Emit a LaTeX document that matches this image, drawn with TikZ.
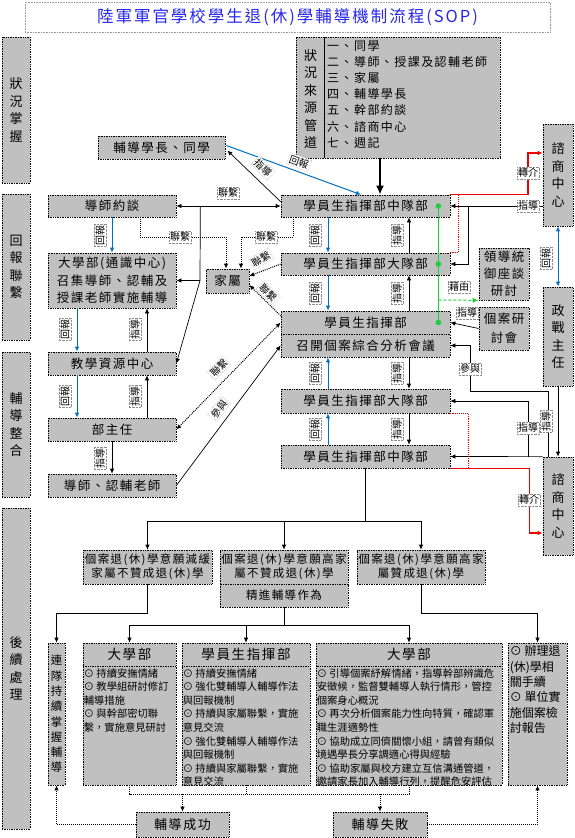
\documentclass[tikz,border=0pt]{standalone}
\usepackage{fontspec}
\setmainfont{Noto Sans CJK TC}
\newfontfamily\cjk[LetterSpace=12]{Noto Sans CJK TC}
\usetikzlibrary{arrows.meta,calc}
\definecolor{boxgray}{RGB}{192,192,192}
\definecolor{lblue}{RGB}{0,112,192}
\definecolor{tblue}{RGB}{40,40,235}
\definecolor{lgreen}{RGB}{30,205,60}
\definecolor{lred}{RGB}{235,0,0}
\newcommand\myfs[2]{\fontsize{#1}{#2}\selectfont}
\begin{document}
\begin{tikzpicture}[x=1pt,y=-1pt,
  wh/.style 2 args={minimum width=#1pt,minimum height=#2pt},
  gbox/.style={draw=black,densely dotted,line width=0.7pt,fill=boxgray,inner sep=0pt,align=center,font={\cjk\myfs{12.5}{17.5}}},
  vbox/.style={gbox,font={\myfs{13}{17.5}}},
  lbl/.style={fill=white,draw=black!45,densely dotted,line width=0.4pt,inner sep=1.3pt,font={\myfs{10}{11}}},
  vlbl/.style={lbl,rotate=90},
  tip/.tip={Latex[length=5pt,width=4.5pt]},
  arr/.style={-tip,line width=0.7pt},
  barr/.style={-tip,line width=1pt,draw=lblue},
  rarr/.style={-tip,line width=1.1pt,draw=lred},
  dline/.style={densely dotted,line width=1pt},
  darr/.style={dline,-tip},
  body/.style={anchor=north west,align=left,inner sep=0pt,font={\myfs{10.3}{13.6}}}]
\useasboundingbox (0,0) rectangle (575,838);
\fill[white] (0,0) rectangle (575,838);

% title
\node[draw=black!40,densely dotted,line width=0.6pt,wh={525}{30},inner sep=0pt,text=tblue,font={\cjk\myfs{16.5}{18}}] (title) at (287.5,17) {陸軍軍官學校學生退(休)學輔導機制流程(SOP)};

% category boxes
\node[vbox,wh={28}{146}] (L1) at (16,110) {狀\\況\\掌\\握};
\node[vbox,wh={28}{146}] (L2) at (16,267) {回\\報\\聯\\繫};
\node[vbox,wh={28}{145}] (L3) at (16,424.5) {輔\\導\\整\\合};
\node[vbox,wh={28}{321}] (L4) at (16,668.5) {後\\續\\處\\理};

% source box
\node[gbox,wh={204}{121}] (src) at (398,97.5) {};
\draw[line width=0.8pt] ($(src.north west)+(29,0)$) -- ($(src.south west)+(29,0)$);
\node[align=center,inner sep=0pt,font={\myfs{13}{17.5}}] (srclbl) at (310.5,99) {狀\\況\\來\\源\\管\\道};
\node[anchor=north west,align=left,inner sep=0pt,font={\cjk\myfs{12}{16.2}}] (srclist) at (327,40) {一、同學\\二、導師、授課及認輔老師\\三、家屬\\四、輔導學長\\五、幹部約談\\六、諮商中心\\七、週記};

% main boxes
\node[gbox,wh={127}{23}] (A) at (161.5,147.5) {輔導學長、同學};
\node[gbox,wh={169}{22}] (B) at (365.5,206) {學員生指揮部中隊部};
\node[gbox,wh={128}{22}] (C) at (112,206) {導師約談};
\node[gbox,wh={128}{55}] (D) at (112,280.5) {大學部(通識中心)\\召集導師、認輔及\\授課老師實施輔導};
\node[gbox,wh={43}{24}] (E) at (227.5,281) {家屬};
\node[gbox,wh={169}{22}] (F) at (365.5,264) {學員生指揮部大隊部};
\node[gbox,wh={169}{23}] (G) at (365.5,322.5) {學員生指揮部};
\node[gbox,wh={169}{23}] (G2) at (365.5,345.5) {召開個案綜合分析會議};
\node[gbox,wh={50}{52},font={\cjk\myfs{12.5}{17}}] (H) at (504,274) {領導統\\御座談\\研討};
\node[gbox,wh={50}{43},font={\cjk\myfs{12.5}{19}}] (I) at (504,328.5) {個案研\\討會};
\node[vbox,wh={30}{102}] (J) at (558,175) {諮\\商\\中\\心};
\node[vbox,wh={30}{99}] (K) at (558,336.5) {政\\戰\\主\\任};
\node[vbox,wh={30}{98}] (M) at (558,506) {諮\\商\\中\\心};
\node[gbox,wh={128}{23}] (N) at (112,363.5) {教學資源中心};
\node[gbox,wh={128}{23}] (O) at (112,429.5) {部主任};
\node[gbox,wh={128}{23}] (P) at (112,485.5) {導師、認輔老師};
\node[gbox,wh={169}{24}] (Q) at (365.5,401) {學員生指揮部大隊部};
\node[gbox,wh={169}{23}] (R) at (365.5,456.5) {學員生指揮部中隊部};

% outcome boxes
\node[gbox,wh={129}{34},font={\cjk\myfs{11.5}{14}}] (S1) at (147.5,567) {個案退(休)學意願減緩\\家屬不贊成退(休)學};
\node[gbox,wh={128}{34},font={\cjk\myfs{11.5}{14}}] (S2) at (284,567) {個案退(休)學意願高家\\屬不贊成退(休)學};
\node[gbox,wh={128}{23},font={\cjk\myfs{11.5}{14}}] (S2b) at (284,595.5) {精進輔導作為};
\node[gbox,wh={128}{34},font={\cjk\myfs{11.5}{14}}] (S3) at (421,567) {個案退(休)學意願高家\\屬贊成退(休)學};

% bottom boxes
\node[gbox,wh={17}{142},font={\myfs{11.5}{15.3}}] (T) at (56.5,714) {連\\隊\\持\\續\\掌\\握\\輔\\導};
\node[gbox,wh={93}{23},font={\cjk\myfs{13.5}{16}}] (Uh) at (129.5,654.5) {大學部};
\node[gbox,wh={93}{119}] (U) at (129.5,725.5) {};
\node[body] (Ut) at ($(U.north west)+(1,2.5)$) {⊙ 持續安撫情緒\\⊙ 教學組研討修訂\\輔導措施\\⊙ 與幹部密切聯\\繫，實施意見研討};
\node[gbox,wh={128}{23},font={\cjk\myfs{13.5}{16}}] (Vh) at (246,654.5) {學員生指揮部};
\node[gbox,wh={128}{119}] (V) at (246,725.5) {};
\node[body] (Vt) at ($(V.north west)+(1,2.5)$) {⊙ 持續安撫情緒\\⊙ 強化雙輔導人輔導作法\\與回報機制\\⊙ 持續與家屬聯繫，實施\\意見交流\\⊙ 強化雙輔導人輔導作法\\與回報機制\\⊙ 持續與家屬聯繫，實施\\意見交流};
\node[gbox,wh={186}{23},font={\cjk\myfs{13.5}{16}}] (Wh) at (409,654.5) {大學部};
\node[gbox,wh={186}{119}] (W) at (409,725.5) {};
\node[body] (Wt) at ($(W.north west)+(1,2.5)$) {⊙ 引導個案紓解情緒，指導幹部辨識危\\安徵候，監督雙輔導人執行情形，管控\\個案身心概況\\⊙ 再次分析個案能力性向特質，確認軍\\職生涯適勢性\\⊙ 協助成立同儕關懷小組，請曾有類似\\境遇學長分享調適心得與經驗\\⊙ 協助家屬與校方建立互信溝通管道，\\邀請家長加入輔導行列，提醒危安評估};
\node[gbox,wh={59}{142}] (X) at (537.5,714) {};
\node[anchor=north west,align=left,inner sep=0pt,font={\myfs{12}{15.3}}] (Xt) at ($(X.north west)+(2,3)$) {⊙ 辦理退\\(休)學相\\關手續\\⊙ 單位實\\施個案檢\\討報告};
\node[gbox,wh={93}{25},font={\cjk\myfs{13}{16}}] (Y) at (182.5,824.5) {輔導成功};
\node[gbox,wh={94}{25},font={\cjk\myfs{13}{16}}] (Z) at (380,824.5) {輔導失敗};

% ---------- connectors: top ----------
\draw[line width=2.2pt,-{Latex[length=9pt,width=8pt]}] ($(src.south)+(-18,0)$) -- ($(B.north)+(14.5,0)$);
\draw[barr] ($(A.east)+(1,-2)$) -- ($(B.north)+(-4.5,0)$);
\node[lbl,rotate=-20] (lb1) at (299,162) {回報};
\draw[arr] ($(B.north west)+(0,7)$) -- ($(A.east)+(2,3)$);
\node[lbl,rotate=-45] (lb2) at (263,168) {指導};

% red top
\coordinate (r1) at (528,153);
\draw[rarr] (B.north east) -| (r1) -- (J.west |- r1);
\draw[lred,densely dotted,line width=1.1pt] (F.north east) -- ++(8,0) -- ++(0,-58);
\node[lbl] (lb3) at (528,173) {轉介};

% 指導 from upper counselling centre
\draw[arr] (J.west |- B.east) -- (B.east);
\draw[arr] ($(B.east)+(18,0)$) |- (F.east);
\node[lbl] (lb4) at (528,206) {指導};

% blue J-K
\draw[barr,tip-tip] (J.south) -- (K.north);
\node[vlbl] (lb11) at (546,258) {回報};

% green
\draw[lgreen,line width=1pt] ($(B.east)+(-12,0)$) -- ($(G.east)+(-12,0)$);
\fill[lgreen] ($(B.east)+(-12,0)$) circle (2.8pt);
\fill[lgreen] ($(F.east)+(-12,0)$) circle (2.8pt);
\fill[lgreen] ($(G.east)+(-12,0)$) circle (2.8pt);
\draw[lgreen,densely dashed,line width=1pt,-{Latex[length=6pt,width=5pt]}] ($(B.east)+(-12,94)$) -- (H.south west);
\node[lbl] (lb5) at (459,287) {藉由};

% I -> G
\draw[arr] (I.west) -- (G.east);
\node[lbl] (lb6) at (467,313) {指導};

% 參與 from lower counselling centre
\draw[arr] ($(M.north west)+(6,0)$) -- ++(0,-65) -| ($(G2.east)+(20,0)$) -- (G2.east);
\node[lbl] (lb7) at (470,369) {參與};

% K -> M
\draw[arr] (K.south) -- (M.north);
\node[vlbl] (lb8) at (546,421) {指導};

% M -> R, Q
\draw[arr] (M.north west) -- (R.east);
\draw[arr] ($(M.north west)+(-14,0)$) |- (Q.east);
\node[lbl] (lb9) at (528,428) {指導};

% red lower
\draw[rarr] (R.south east) -- ++(79,0) |- ($(M.west)+(0,27)$);
\draw[lred,densely dotted,line width=1.1pt] (Q.south east) -- ++(18,0) -- ++(0,55);
\node[lbl] (lb10) at (529,500) {轉介};

% C <-> B and branches
\draw[arr,tip-tip] (C.east) -- (B.west);
\node[lbl] (lb12) at (228,193) {聯繫};
\coordinate (k1) at (200,280.5);
\draw[line width=0.7pt] ($(C.east)+(24,0)$) -- (k1);
\draw[arr] (k1) -- (D.east);
\draw[arr] (k1) -- (N.east);

% dotted links to family
\draw[darr] ($(C.south)+(28,0)$) -- ++(0,20) -| ($(E.north)+(-1.5,0)$);
\node[lbl] (lb13) at (180,237) {聯繫};
\draw[darr] ($(B.south)+(-72.5,0)$) -- ++(0,20) -| ($(E.north)+(13.5,0)$);
\node[lbl] (lb14) at (266,237) {聯繫};
\draw[darr] (F.west) -- ($(E.east)+(0,-5)$);
\node[lbl,rotate=30] (lb15) at (261,259) {聯繫};
\draw[darr] ($(G.north west)+(0,5)$) -- ($(E.east)+(0,4)$);
\node[lbl,rotate=-45] (lb16) at (268,293) {聯繫};

% O <-> G, P -> G2
\draw[darr,tip-tip] (O.east) -- (G.west);
\node[lbl,rotate=45] (lb17) at (219,368) {聯繫};
\draw[arr] (P.east) -- (G2.west);
\node[lbl,rotate=53] (lb18) at (219,409) {參與};

% left column verticals
\draw[barr] (C.south) -- (D.north);
\node[vlbl] (lb19) at (100,235) {回報};
\draw[barr] ($(D.south)+(-35,0)$) -- ($(N.north)+(-35,0)$);
\node[vlbl] (lb20) at (65,329) {回報};
\draw[arr] ($(N.north)+(35,0)$) -- ($(D.south)+(35,0)$);
\node[vlbl] (lb21) at (135,329) {指導};
\draw[barr] ($(N.south)+(-35,0)$) -- ($(O.north)+(-35,0)$);
\node[vlbl] (lb22) at (65,396) {回報};
\draw[arr] ($(O.north)+(35,0)$) -- ($(N.south)+(35,0)$);
\node[vlbl] (lb23) at (135,396) {指導};
\draw[arr] (O.south) -- (P.north);
\node[vlbl] (lb24) at (100,458) {指導};

% centre column verticals
\draw[barr] ($(B.south)+(-37.5,0)$) -- ($(F.north)+(-37.5,0)$);
\node[vlbl] (lb25) at (315,235) {回報};
\draw[arr] ($(F.north)+(43.5,0)$) -- ($(B.south)+(43.5,0)$);
\node[vlbl] (lb26) at (397,235) {指導};
\draw[barr] ($(F.south)+(-37.5,0)$) -- ($(G.north)+(-37.5,0)$);
\node[vlbl] (lb27) at (315,293) {回報};
\draw[arr] ($(G.north)+(43.5,0)$) -- ($(F.south)+(43.5,0)$);
\node[vlbl] (lb28) at (397,293) {指導};
\draw[barr] ($(Q.north)+(-37.5,0)$) -- ($(G2.south)+(-37.5,0)$);
\node[vlbl] (lb29) at (315,373) {回報};
\draw[arr] ($(G2.south)+(43.5,0)$) -- ($(Q.north)+(43.5,0)$);
\node[vlbl] (lb30) at (397,373) {指導};
\draw[barr] ($(R.north)+(-37.5,0)$) -- ($(Q.south)+(-37.5,0)$);
\node[vlbl] (lb31) at (315,429) {回報};
\draw[arr] ($(Q.south)+(43.5,0)$) -- ($(R.north)+(43.5,0)$);
\node[vlbl] (lb32) at (397,429) {指導};

% ---------- bottom forks ----------
\coordinate (f1) at (366,521);
\draw[line width=0.8pt] (R.south) -- (R.south |- f1);
\draw[line width=0.8pt] (S1.north |- f1) -- (S3.north |- f1);
\draw[arr] (S1.north |- f1) -- (S1.north);
\draw[arr] (S2.north |- f1) -- (S2.north);
\draw[arr] (S3.north |- f1) -- (S3.north);

\draw[arr] (S1.south) -- ++(0,29) -| (T.north);
\coordinate (f2) at (284,625);
\draw[line width=0.8pt] (S2b.south) -- (f2);
\draw[line width=0.8pt] (Uh.north |- f2) -- (Wh.north |- f2);
\draw[arr] (Uh.north |- f2) -- (Uh.north);
\draw[arr] (Vh.north |- f2) -- (Vh.north);
\draw[arr] (Wh.north |- f2) -- (Wh.north);
\draw[arr] (S3.south) -- ++(0,29) -| (X.north);

\coordinate (f3) at (0,794);
\draw[dline] (U.south) -- (U.south |- f3) -- (W.south |- f3) -- (W.south);
\draw[dline] (V.south) -- (V.south |- f3);
\draw[darr] (Y.north |- f3) -- (Y.north);
\draw[darr] (Z.north |- f3) -- (Z.north);
\draw[darr] (Y.west) -| (T.south);
\draw[darr] (Z.east) -| (X.south);
\end{tikzpicture}
\end{document}
